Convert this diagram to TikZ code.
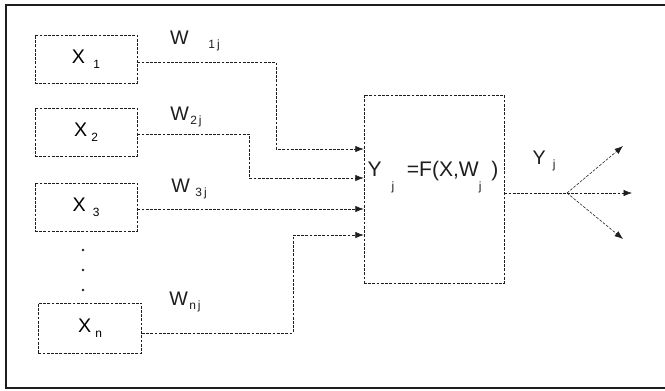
\documentclass[tikz,border=0pt]{standalone}
\usepackage{fontspec}
\setmainfont{Liberation Sans}
\usepackage{xcolor}
\usetikzlibrary{arrows.meta, positioning, calc}
\definecolor{ink}{HTML}{1E1E1E}
\newcommand{\lowsub}[3]{\hspace{#1}\raisebox{#2}{\fontsize{8.5pt}{9pt}\selectfont #3}}

\begin{document}
\begin{tikzpicture}[
    x=0.025cm, y=-0.025cm,
    font=\fontsize{14pt}{16pt}\selectfont,
    inbox/.style={rectangle, minimum width=2.55cm, minimum height=1.2cm,
                  draw=ink, dash pattern=on 2pt off 1pt, line width=0.4pt},
    wire/.style={draw=ink, dash pattern=on 2pt off 1pt, line width=0.4pt},
    tip/.style={-{Latex[length=6pt,width=4.5pt]}},
    wlabel/.style={inner sep=0pt, text=ink},
]
\useasboundingbox (0,0) rectangle (665,390);
\draw[ink, line width=2pt] (665,5) -- (6,5) -- (6,388) -- (665,388);

% inputs
\node[inbox] (x1) at (86,59)   {X\lowsub{6pt}{-0.5ex}{1}};
\node[inbox] (x2) at (86,132)  {X\lowsub{3pt}{-0.5ex}{2}};
\node[inbox] (x3) at (86,207)  {X\lowsub{5pt}{-0.5ex}{3}};
\node[inbox, minimum width=2.58cm, minimum height=1.25cm] (xn) at (90,328) {X\lowsub{3pt}{-0.5ex}{n}};
\node[circle, fill=ink, inner sep=0.7pt] (d1) at (83,250) {};
\node[circle, fill=ink, inner sep=0.7pt] (d2) at (83,270) {};
\node[circle, fill=ink, inner sep=0.7pt] (d3) at (83,290) {};

% neuron
\node[inbox, minimum width=3.5cm, minimum height=4.7cm] (fn) at (434,189) {};
\node[wlabel, font=\fontsize{15pt}{17pt}\selectfont] (flabel) at (433,177)
    {Y\lowsub{7pt}{-1.2ex}{j}\hspace{9pt}=F(X,W\lowsub{0pt}{-1.2ex}{j}\hspace{7pt})};

% weights
\node[wlabel] (w1) at (195,41)  {W\lowsub{14pt}{-0.3ex}{1\,j}};
\node[wlabel] (w2) at (186,117) {W\lowsub{1pt}{-0.3ex}{2\,j}};
\node[wlabel] (w3) at (189,189) {W\lowsub{4pt}{-0.3ex}{3\,j}};
\node[wlabel] (wn) at (185,302) {W\lowsub{1pt}{-0.3ex}{n\,j}};

\draw[wire, tip] (x1.east |- 0,62) -| (276,149) -- (fn.west |- 0,149);
\draw[wire, tip] (x2.east |- 0,134) -| (249,178) -- (fn.west |- 0,178);
\draw[wire, tip] (x3.east |- 0,209) -- (fn.west |- 0,209);
\draw[wire, tip] (xn.east |- 0,333) -| (293,235) -- (fn.west |- 0,235);

% output
\coordinate (split) at (567,193);
\coordinate (o1) at (623,146);
\coordinate (o2) at (632,193);
\coordinate (o3) at (623,239);
\node[wlabel] (ylabel) at (544,161) {Y\lowsub{5pt}{-0.4ex}{j}};
\draw[wire] (fn.east |- split) -- (split);
\draw[wire, tip] (split) -- (o1);
\draw[wire, tip] (split) -- (o2);
\draw[wire, tip] (split) -- (o3);
\end{tikzpicture}
\end{document}
